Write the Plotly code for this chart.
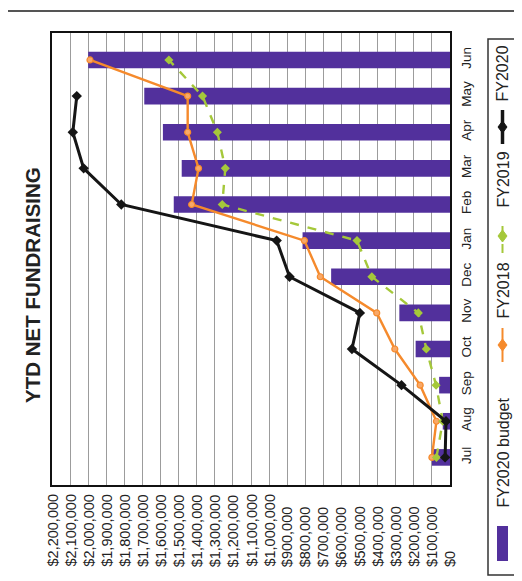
import plotly.graph_objects as go

# ---- data ----
months = ['Jul', 'Aug', 'Sep', 'Oct', 'Nov', 'Dec', 'Jan', 'Feb', 'Mar', 'Apr', 'May', 'Jun']
budget_fy2020 = [100000, 40000, 60000, 190000, 280000, 657000, 815000, 1527000, 1483000, 1587000, 1690000, 2000000]
fy2018 = [100000, 75000, 165000, 305000, 405000, 717000, 805000, 1428000, 1390000, 1450000, 1450000, 1990000]
fy2019 = [75000, 40000, 77000, 131000, 175000, 432000, 514000, 1259000, 1242000, 1286000, 1368000, 1554000]
fy2020 = [27000, 22000, 268000, 542000, 498000, 887000, 958000, 1817000, 2025000, 2085000, 2063000]
value_ticks = list(range(0, 2200001, 100000))
value_labels = [f"${v:,}" for v in value_ticks]
title_text = "YTD NET FUNDRAISING"
legend_names = ['FY2020 budget', 'FY2018', 'FY2019', 'FY2020']

# ---- layout geometry ----
W, H = 522, 581
L, R, T, B = 44, 442, 25, 477
FONT = 'Liberation Sans, Arial, sans-serif'
PURPLE = '#52309c'
ORANGE = '#f58a2c'
GREEN = '#a5c83a'
BLACK = '#151515'


def px(x):
    return (x - L) / (R - L)


def py(y):
    return (B - y) / (B - T)


fig = go.Figure()
fig.add_trace(go.Bar(y=months, x=budget_fy2020, orientation='h', width=0.46,
                     marker=dict(color=PURPLE, line=dict(width=0)), name=legend_names[0]))
fig.add_trace(go.Scatter(y=months, x=fy2018, mode='lines+markers', name=legend_names[1],
                         line=dict(color=ORANGE, width=2.4),
                         marker=dict(symbol='circle', size=6, color='#f8a868',
                                     line=dict(color=ORANGE, width=1.2))))
fig.add_trace(go.Scatter(y=months, x=fy2019, mode='lines+markers', name=legend_names[2],
                         line=dict(color=GREEN, width=2.4, dash='dash'),
                         marker=dict(symbol='diamond', size=7, color=GREEN)))
fig.add_trace(go.Scatter(y=months[:len(fy2020)], x=fy2020, mode='lines+markers', name=legend_names[3],
                         line=dict(color=BLACK, width=3),
                         marker=dict(symbol='diamond', size=8, color=BLACK)))

fig.update_xaxes(range=[2200000, 0], tickvals=value_ticks, showticklabels=False,
                 showgrid=True, gridcolor='#9c9c9c', gridwidth=1, zeroline=False,
                 showline=True, linecolor='#111', linewidth=1.5, mirror=True, ticks='')
fig.update_yaxes(categoryorder='array', categoryarray=months, side='right', tickangle=-90,
                 tickfont=dict(family=FONT, size=13.5, color='#222'), ticklabelstandoff=3,
                 showgrid=False, zeroline=False, ticks='',
                 showline=True, linecolor='#111', linewidth=1.5, mirror=True)

annotations = []
# value axis labels (rotated, aligned at their start)
for v, lab in zip(value_ticks, value_labels):
    annotations.append(dict(x=v, xref='x', y=py(561), yref='paper', text=lab, textangle=-90,
                            xanchor='center', yanchor='bottom', showarrow=False,
                            font=dict(family=FONT, size=14.5, color='#222')))
# title
annotations.append(dict(x=px(24), y=py(277), xref='paper', yref='paper', text=f"<b>{title_text}</b>",
                        textangle=-90, showarrow=False, xanchor='center', yanchor='middle',
                        font=dict(family=FONT, size=20.5, color='#222')))

# legend (rotated, drawn by hand)
shapes = []
shapes.append(dict(type='rect', xref='paper', yref='paper', x0=px(480), x1=px(509), y0=py(567), y1=py(31),
                   line=dict(color='#333', width=1.5), fillcolor='rgba(0,0,0,0)'))
lx = 494.5
# swatch
shapes.append(dict(type='rect', xref='paper', yref='paper', x0=px(489), x1=px(500), y0=py(553), y1=py(518),
                   line=dict(width=0), fillcolor=PURPLE))
legend_text_pos = [(445, legend_names[0]), (283, legend_names[1]), (172, legend_names[2]), (66, legend_names[3])]
for yc, name in legend_text_pos:
    annotations.append(dict(x=px(lx), y=py(yc), xref='paper', yref='paper', text=name, textangle=-90,
                            showarrow=False, xanchor='center', yanchor='middle',
                            font=dict(family=FONT, size=16, color='#222')))
# line symbols
for yc, color, w, dash in [(337, ORANGE, 2, 'solid'), (228, GREEN, 2, 'dash'), (119, BLACK, 3.5, 'solid')]:
    shapes.append(dict(type='line', xref='paper', yref='paper', x0=px(lx), x1=px(lx), y0=py(yc + 17), y1=py(yc - 17),
                       line=dict(color=color, width=w, dash=dash)))
    shapes.append(dict(type='path', xref='paper', yref='paper',
                       path=f"M {px(lx)} {py(yc-6)} L {px(lx+4.5)} {py(yc)} L {px(lx)} {py(yc+6)} L {px(lx-4.5)} {py(yc)} Z",
                       fillcolor=color, line=dict(color=color, width=1)))

# scan page edges
shapes.append(dict(type='line', xref='paper', yref='paper', x0=px(0), x1=px(W), y0=py(3), y1=py(3),
                   line=dict(color='#555', width=2)))
shapes.append(dict(type='rect', xref='paper', yref='paper', x0=px(0), x1=px(W), y0=py(581), y1=py(574),
                   line=dict(width=0), fillcolor='#d8d8d8', layer='below'))

fig.update_layout(width=W, height=H, margin=dict(l=L, r=W - R, t=T, b=H - B, autoexpand=False),
                  paper_bgcolor='white', plot_bgcolor='white', showlegend=False,
                  annotations=annotations, shapes=shapes, font=dict(family=FONT))

fig.write_html("out.html")
